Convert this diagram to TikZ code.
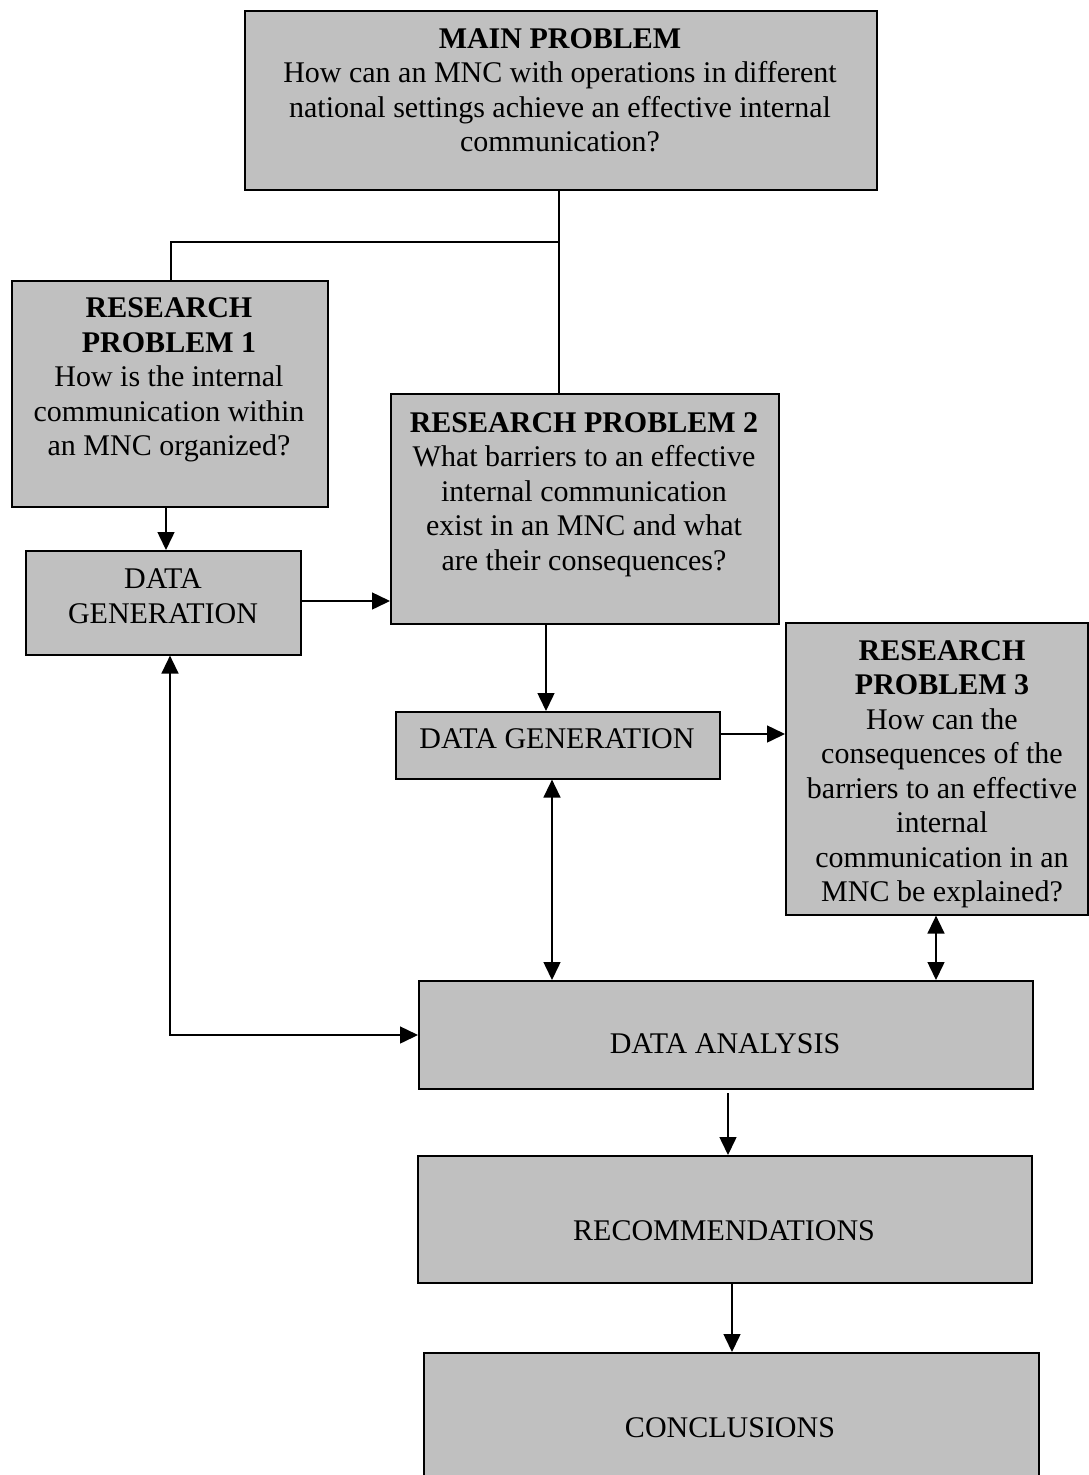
\documentclass[tikz,border=0pt]{standalone}
\usepackage{fontspec}
\setmainfont{Liberation Serif}
\usetikzlibrary{arrows.meta}
\definecolor{boxgray}{RGB}{192,192,192}
\begin{document}
\begin{tikzpicture}[x=1pt,y=-1pt,
  box/.style={draw=black, line width=1.6pt, fill=boxgray, inner sep=0pt, anchor=north west},
  txt/.style={align=center, inner sep=0pt, font=\fontsize{30}{34.5}\selectfont},
  link/.style={line width=1.5pt},
  arr/.style={link, -{Triangle[length=18pt,width=17pt]}},
  darr/.style={link, {Triangle[length=18pt,width=17pt]}-{Triangle[length=18pt,width=17pt]}},
]
\useasboundingbox (0,0) rectangle (1089,1475);

% boxes
\node[box, minimum width=632pt, minimum height=179pt] (main) at (244,10) {};
\node[box, minimum width=316pt, minimum height=226pt] (rp1) at (11,280) {};
\node[box, minimum width=388pt, minimum height=230pt] (rp2) at (390,393) {};
\node[box, minimum width=275pt, minimum height=104pt] (dg1) at (25,550) {};
\node[box, minimum width=324pt, minimum height=67pt] (dg2) at (395,711) {};
\node[box, minimum width=302pt, minimum height=292pt] (rp3) at (785,622) {};
\node[box, minimum width=614pt, minimum height=108pt] (da) at (418,980) {};
\node[box, minimum width=614pt, minimum height=127pt] (rec) at (417,1155) {};
\node[box, minimum width=615pt, minimum height=140pt] (conc) at (423,1352) {};

% box texts
\node[txt] (mainT) at (560,93) {\strut\textbf{MAIN PROBLEM}\\How can an MNC with operations in different\\national settings achieve an effective internal\\communication?\strut};
\node[txt] (rp1T) at (169,380) {\strut\textbf{RESEARCH}\\\textbf{PROBLEM 1}\\How is the internal\\communication within\\an MNC organized?\strut};
\node[txt] (rp2T) at (584,494.5) {\strut\textbf{RESEARCH PROBLEM 2}\\What barriers to an effective\\internal communication\\exist in an MNC and what\\are their consequences?\strut};
\node[txt] (rp3T) at (942,774) {\strut\textbf{RESEARCH}\\\textbf{PROBLEM 3}\\How can the\\consequences of the\\barriers to an effective\\internal\\communication in an\\MNC be explained?\strut};
\node[txt] (dg1T) at (163,599) {\strut DATA\\GENERATION\strut};
\node[txt] (dg2T) at (557,742) {\strut DATA GENERATION\strut};
\node[txt] (daT) at (725,1047) {\strut DATA ANALYSIS\strut};
\node[txt] (recT) at (724,1234) {\strut RECOMMENDATIONS\strut};
\node[txt] (concT) at (730,1431) {\strut CONCLUSIONS\strut};

% connectors
\coordinate (fork) at (559,242);
\coordinate (daout) at (728,1093);
\draw[link] (main.south -| 559,0) -- (rp2.north -| 559,0);
\draw[link] (fork) -| (rp1.north -| 171,0);
\draw[arr] (rp1.south -| 166,0) -- (dg1.north -| 166,0);
\draw[arr] (dg1.east |- 0,601) -- (rp2.west |- 0,601);
\draw[arr] (rp2.south -| 546,0) -- (dg2.north -| 546,0);
\draw[arr] (dg2.east |- 0,734) -- (rp3.west |- 0,734);
\draw[darr] (dg2.south -| 552,0) -- (da.north -| 552,0);
\draw[darr] (rp3.south -| 936,0) -- (da.north -| 936,0);
\draw[darr] (dg1.south -| 170,0) |- (da.west |- 0,1035);
\draw[arr] (daout) -- (rec.north -| 728,0);
\draw[arr] (rec.south -| 732,0) -- (conc.north -| 732,0);
\end{tikzpicture}
\end{document}
